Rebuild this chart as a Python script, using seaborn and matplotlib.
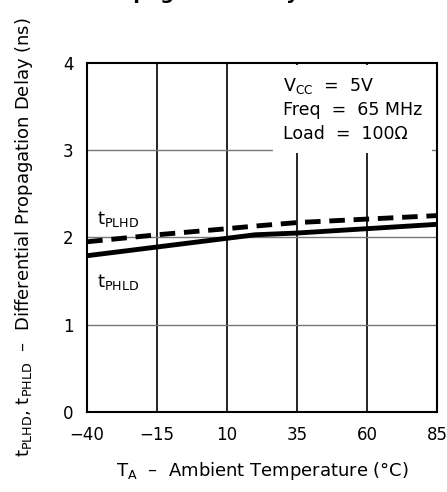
import pandas as pd
import matplotlib.pyplot as plt
import seaborn as sns

# values
temp = [-40, -15, 10, 20, 35, 60, 85]
t_plhd = [1.95, 2.03, 2.10, 2.13, 2.17, 2.21, 2.25]
t_phld = [1.79, 1.89, 1.99, 2.03, 2.05, 2.10, 2.15]
x_ticks = [-40, -15, 10, 35, 60, 85]
y_ticks = [0, 1, 2, 3, 4]

sns.set_style("white")
plt.rcParams['font.family'] = ['DejaVu Sans']
plt.rcParams['mathtext.fontset'] = 'dejavusans'
plt.rcParams['text.color'] = 'black'
plt.rcParams['axes.labelcolor'] = 'black'
plt.rcParams['xtick.color'] = 'black'
plt.rcParams['ytick.color'] = 'black'

fig = plt.figure(figsize=(4.47, 4.92), dpi=100)
ax = fig.add_axes([0.195, 0.163, 0.783, 0.709])

# grid
for x in x_ticks[1:-1]:
    ax.axvline(x, color='black', lw=1.2, zorder=1)
for y in [1, 2, 3]:
    ax.axhline(y, color='#777777', lw=1.0, zorder=1)

sns.lineplot(x=temp, y=t_plhd, ax=ax, color='black', lw=3.5, zorder=3,
             linestyle=(0, (3.2, 1.8)))
sns.lineplot(x=temp, y=t_phld, ax=ax, color='black', lw=3.5, zorder=3)

ax.set_xlim(-40, 85)
ax.set_ylim(0, 4)
ax.set_xticks(x_ticks)
ax.set_yticks(y_ticks)
ax.tick_params(length=0, labelsize=12, pad=10)
ax.tick_params(axis='x', pad=10)
for s in ax.spines.values():
    s.set_color('black')
    s.set_linewidth(1.5)

ax.text(-36.5, 2.15, r'$\mathregular{t_{PLHD}}$', fontsize=13, zorder=4)
ax.text(-36.5, 1.43, r'$\mathregular{t_{PHLD}}$', fontsize=13, zorder=4)

ax.text(29.8, 3.47, "V$_{\\mathregular{CC}}$  =  5V\nFreq  =  65 MHz\nLoad  =  100\u03a9",
        fontsize=12.5, linespacing=1.4, va='center', ha='left', zorder=5,
        bbox=dict(facecolor='white', edgecolor='none', pad=7))

ax.set_xlabel("T$_{\\mathregular{A}}$  \u2013  Ambient Temperature (\u00b0C)",
              fontsize=13, labelpad=12)
ax.set_ylabel("t$_{\\mathregular{PLHD}}$, t$_{\\mathregular{PHLD}}$  \u2013  "
              "Differential Propagation Delay (ns)", fontsize=13, labelpad=20)

# title cut off at the top edge in the original
fig.text(0.215, 1.0 + 1.5 / 492, "Propagation Delay", fontsize=14,
         fontweight='bold', va='baseline', ha='left')

fig.savefig("out.png", dpi=100)
